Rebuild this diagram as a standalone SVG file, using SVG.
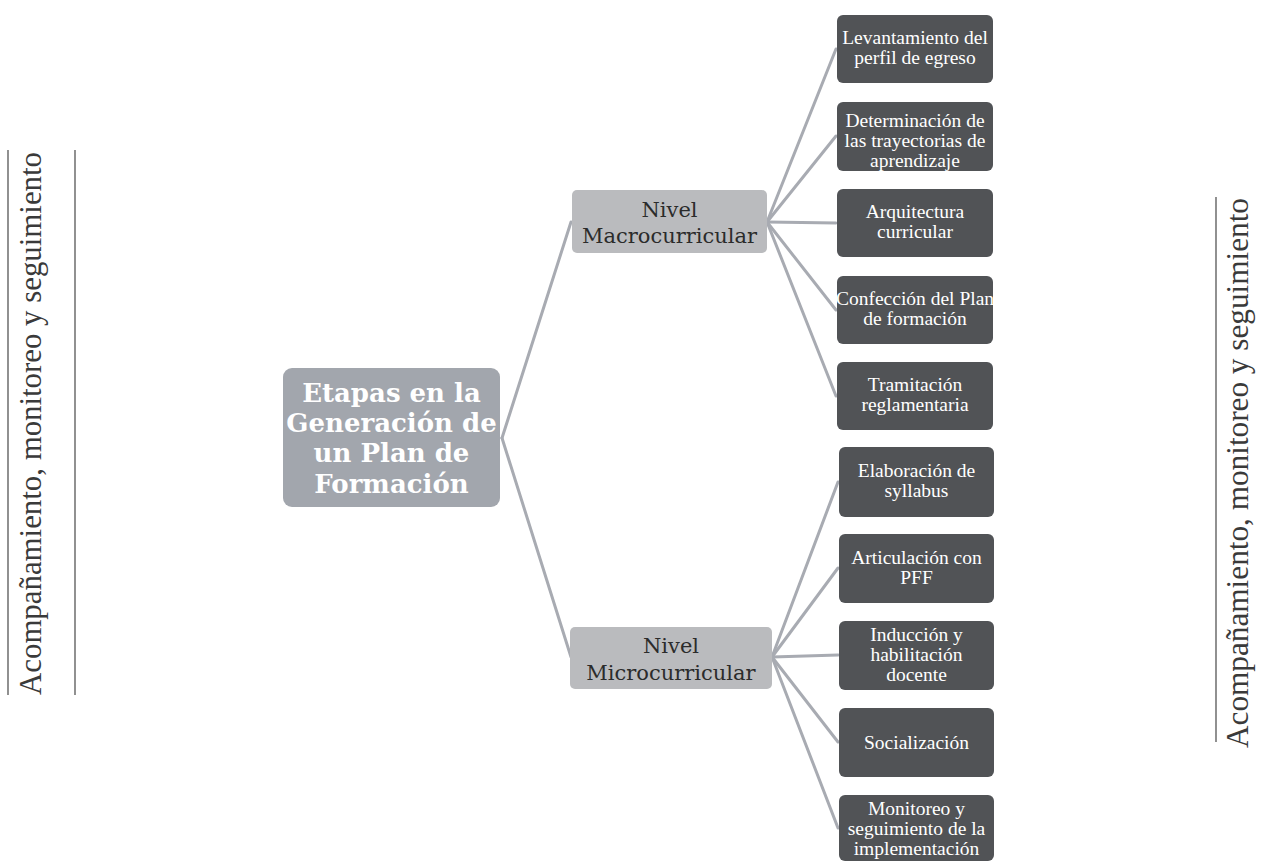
<svg xmlns="http://www.w3.org/2000/svg" width="1273" height="862" viewBox="0 0 1273 862">
<style>
.bg{fill:#ffffff}
.root{fill:#a2a6ad}
.lvl{fill:#babbbe}
.leaf{fill:#515356}
.conn{stroke:#a8abb2;stroke-width:3;fill:none;stroke-linecap:round}
.rule{stroke:#555555;stroke-width:1.3}
.tRoot{font-family:"DejaVu Serif","Liberation Serif",serif;font-weight:bold;font-size:26px;fill:#ffffff;text-anchor:middle}
.tLvl{font-family:"DejaVu Serif","Liberation Serif",serif;font-size:21px;fill:#2b2b2b;text-anchor:middle}
.tLeaf{font-family:"Liberation Serif",serif;font-size:19.5px;fill:#ffffff;text-anchor:middle}
.tSide{font-family:"Liberation Serif",serif;font-size:31px;fill:#3a3a3a;text-anchor:middle}
</style>
<rect class="bg" x="0" y="0" width="1273" height="862"/>

<g id="side-left">
<line class="rule" x1="8" y1="150" x2="8" y2="695"/>
<line class="rule" x1="75" y1="150" x2="75" y2="695"/>
<text class="tSide" transform="translate(41,423.5) rotate(-90)" x="0" y="0" textLength="543" lengthAdjust="spacingAndGlyphs">Acompañamiento, monitoreo y seguimiento</text>
</g>
<g id="side-right">
<line class="rule" x1="1216" y1="197" x2="1216" y2="742"/>
<text class="tSide" transform="translate(1248,473) rotate(-90)" x="0" y="0" textLength="550" lengthAdjust="spacingAndGlyphs">Acompañamiento, monitoreo y seguimiento</text>
</g>

<g id="connectors">
<path class="conn" d="M502,438 L571,222"/>
<path class="conn" d="M502,438 L571,657"/>
<path class="conn" d="M767,222 L836,49"/>
<path class="conn" d="M767,222 L836,136"/>
<path class="conn" d="M767,222 L836,223"/>
<path class="conn" d="M767,222 L836,310"/>
<path class="conn" d="M767,222 L836,396"/>
<path class="conn" d="M772,657 L838,482"/>
<path class="conn" d="M772,657 L838,568"/>
<path class="conn" d="M772,657 L838,655"/>
<path class="conn" d="M772,657 L838,742"/>
<path class="conn" d="M772,657 L838,828"/>
</g>

<g id="root">
<rect class="root" x="283" y="368" width="217" height="139" rx="9"/>
<text class="tRoot" x="391.5" y="402">Etapas en la</text>
<text class="tRoot" x="391.5" y="432">Generación de</text>
<text class="tRoot" x="391.5" y="462">un Plan de</text>
<text class="tRoot" x="391.5" y="493">Formación</text>
</g>

<g id="macro">
<rect class="lvl" x="572" y="190" width="195" height="63" rx="5"/>
<text class="tLvl" x="669.5" y="217">Nivel</text>
<text class="tLvl" x="669.5" y="243">Macrocurricular</text>
</g>
<g id="micro">
<rect class="lvl" x="570" y="627" width="202" height="62" rx="5"/>
<text class="tLvl" x="671" y="653">Nivel</text>
<text class="tLvl" x="671" y="680">Microcurricular</text>
</g>

<g id="n1"><rect class="leaf" x="837" y="15" width="156" height="68" rx="6"/>
<text class="tLeaf" x="915" y="44">Levantamiento del</text><text class="tLeaf" x="915" y="64">perfil de egreso</text></g>
<g id="n2"><rect class="leaf" x="837" y="102" width="156" height="69" rx="6"/>
<text class="tLeaf" x="915" y="127">Determinación de</text><text class="tLeaf" x="915" y="147">las trayectorias de</text><text class="tLeaf" x="915" y="167">aprendizaje</text></g>
<g id="n3"><rect class="leaf" x="837" y="189" width="156" height="68" rx="6"/>
<text class="tLeaf" x="915" y="218">Arquitectura</text><text class="tLeaf" x="915" y="238">curricular</text></g>
<g id="n4"><rect class="leaf" x="837" y="276" width="156" height="68" rx="6"/>
<text class="tLeaf" x="915" y="305">Confección del Plan</text><text class="tLeaf" x="915" y="325">de formación</text></g>
<g id="n5"><rect class="leaf" x="837" y="362" width="156" height="68" rx="6"/>
<text class="tLeaf" x="915" y="391">Tramitación</text><text class="tLeaf" x="915" y="411">reglamentaria</text></g>

<g id="n6"><rect class="leaf" x="839" y="447" width="155" height="70" rx="6"/>
<text class="tLeaf" x="916.5" y="477">Elaboración de</text><text class="tLeaf" x="916.5" y="497">syllabus</text></g>
<g id="n7"><rect class="leaf" x="839" y="534" width="155" height="69" rx="6"/>
<text class="tLeaf" x="916.5" y="564">Articulación con</text><text class="tLeaf" x="916.5" y="584">PFF</text></g>
<g id="n8"><rect class="leaf" x="839" y="621" width="155" height="69" rx="6"/>
<text class="tLeaf" x="916.5" y="641">Inducción y</text><text class="tLeaf" x="916.5" y="661">habilitación</text><text class="tLeaf" x="916.5" y="681">docente</text></g>
<g id="n9"><rect class="leaf" x="839" y="708" width="155" height="69" rx="6"/>
<text class="tLeaf" x="916.5" y="749">Socialización</text></g>
<g id="n10"><rect class="leaf" x="839" y="795" width="155" height="66" rx="6"/>
<text class="tLeaf" x="916.5" y="815">Monitoreo y</text><text class="tLeaf" x="916.5" y="835">seguimiento de la</text><text class="tLeaf" x="916.5" y="855">implementación</text></g>
</svg>
